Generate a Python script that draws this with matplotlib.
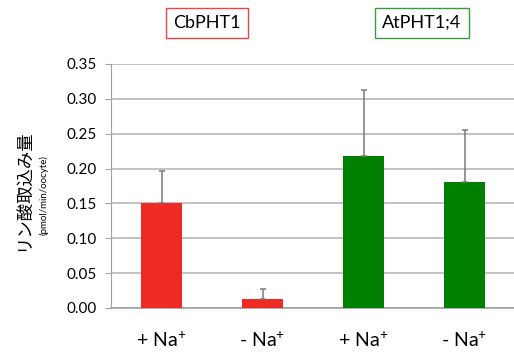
import matplotlib
matplotlib.use('Agg')
import matplotlib.pyplot as plt

plt.rcParams['font.family'] = ['Lato', 'Noto Sans CJK JP', 'DejaVu Sans']
plt.rcParams['mathtext.fontset'] = 'custom'
plt.rcParams['mathtext.rm'] = 'Lato'
plt.rcParams['mathtext.default'] = 'rm'

categories = ['+ Na$^{+}$', '- Na$^{+}$', '+ Na$^{+}$', '- Na$^{+}$']
uptake = [0.151, 0.013, 0.218, 0.180]
sd_upper = [0.046, 0.014, 0.095, 0.075]
bar_colors = ['#ee2a24', '#ee2a24', '#007f00', '#007f00']
groups = ['CbPHT1', 'AtPHT1;4']
group_edges = ['#ee4444', '#3a9a3a']
yticks = [0.00, 0.05, 0.10, 0.15, 0.20, 0.25, 0.30, 0.35]

fig = plt.figure(figsize=(5.14, 3.53), dpi=100)
ax = fig.add_axes([0.216, 0.1275, 0.786, 0.6915])

x = list(range(len(categories)))
ax.bar(x, uptake, width=0.4, color=bar_colors, zorder=3)
ax.errorbar(x, uptake, yerr=[[0] * len(sd_upper), sd_upper], fmt='none',
            ecolor='#7a7a7a', elinewidth=1.1, capsize=2.5, capthick=1.1, zorder=4)

ax.set_xlim(-0.5, 3.5)
ax.set_ylim(0, 0.35)
ax.set_yticks(yticks)
ax.set_yticklabels(['%.2f' % v for v in yticks], fontsize=11)
ax.set_xticks(x)
ax.set_xticklabels(categories, fontsize=14)
ax.tick_params(axis='x', length=0, pad=16)
ax.tick_params(axis='y', length=4, color='#a0a0a0', pad=6)
ax.yaxis.grid(True, color='#b8b8b8', linewidth=1.2, zorder=0)
for s in ['top', 'right']:
    ax.spines[s].set_visible(False)
ax.spines['left'].set_color('#a0a0a0')
ax.spines['bottom'].set_color('#a0a0a0')
ax.spines['bottom'].set_linewidth(1.2)

# group labels in boxes
for gx, name, ec in zip([207 / 514, 422 / 514], groups, group_edges):
    fig.text(gx, 1 - 23 / 353, name, ha='center', va='center', fontsize=13,
             bbox=dict(boxstyle='square,pad=0.4', fc='white', ec=ec, lw=1.0))

fig.text(24 / 514, 1 - 190 / 353, 'リン酸取込み量', rotation=90, ha='center', va='center',
         fontsize=12.5, family=['Noto Sans CJK JP', 'DejaVu Sans'])
fig.text(44 / 514, 1 - 195 / 353, '(pmol/min/oocyte)', rotation=90, ha='center', va='center',
         fontsize=7)

fig.savefig('out.png', dpi=100)
